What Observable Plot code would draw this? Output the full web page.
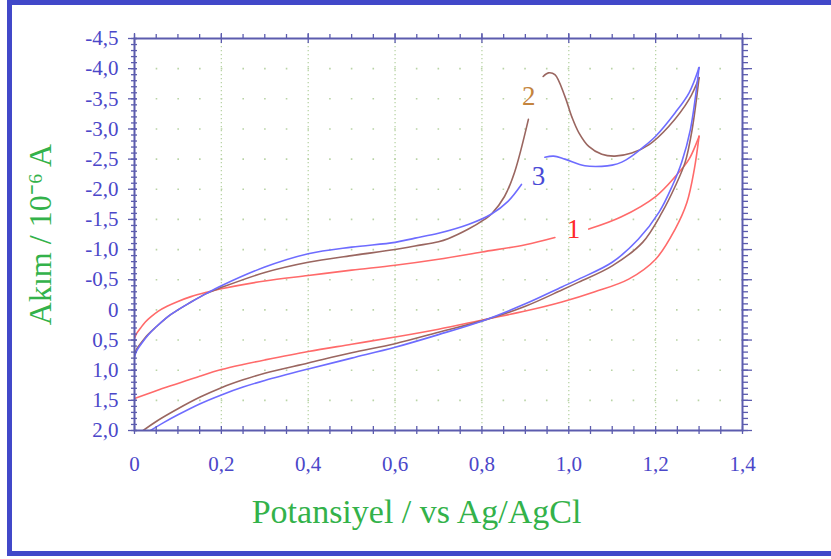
<!DOCTYPE html>
<html>
<head>
<meta charset="utf-8">
<script src="https://cdn.jsdelivr.net/npm/d3@7"></script>
<script src="https://cdn.jsdelivr.net/npm/@observablehq/plot@0.6"></script>
<style>
  body { margin: 0; background: #ffffff; }
  #wrap { position: relative; width: 831px; height: 559px; overflow: hidden; background: #fff; }
  #wrap svg { position: absolute; left: 0; top: 0; }
  #border { position: absolute; left: 7px; top: 0; width: 830px; height: 556px; box-sizing: border-box;
            border-left: 5px solid #4148c9; border-top: 5px solid #4148c9; border-bottom: 5px solid #4148c9; pointer-events: none; }
</style>
</head>
<body>
<div id="wrap"><div id="border"></div></div>
<script>
// ---- Data (potential in V vs Ag/AgCl, current in 10^-6 A; null = gap behind a curve label) ----
const redFwdV   = [0, 0.005, 0.014, 0.025, 0.037, 0.055, 0.075, 0.1, 0.13, 0.165, 0.2, 0.3, 0.4, 0.5, 0.6, 0.7, 0.8, 0.9, 0.968, 1.0, 1.046, 1.12, 1.2, 1.245, 1.277, 1.3];
const redFwdI   = [0.47, 0.39, 0.3, 0.2, 0.12, 0.02, -0.06, -0.14, -0.22, -0.29, -0.35, -0.48, -0.57, -0.66, -0.74, -0.84, -0.96, -1.08, -1.2, null, -1.34, -1.54, -1.88, -2.21, -2.5, -2.88];
const redRevV   = [1.3, 1.289, 1.272, 1.245, 1.2, 1.138, 1.06, 0.984, 0.9, 0.806, 0.7, 0.6, 0.5, 0.4, 0.3, 0.25, 0.2, 0.15, 0.1, 0.05, 0];
const redRevI   = [-2.88, -2.33, -1.78, -1.34, -0.84, -0.51, -0.3, -0.13, 0.02, 0.16, 0.32, 0.45, 0.57, 0.69, 0.83, 0.905, 0.99, 1.1, 1.22, 1.34, 1.47];

const brownFwdV = [0, 0.005, 0.015, 0.031, 0.05, 0.077, 0.1, 0.123, 0.165, 0.2, 0.3, 0.4, 0.5, 0.6, 0.646, 0.7, 0.722, 0.769, 0.806, 0.822, 0.852, 0.875, 0.907, 0.925, 0.941, 0.953, 0.968, 0.991, 1.007, 1.023, 1.046, 1.076, 1.106, 1.145, 1.185, 1.23, 1.277, 1.3];
const brownFwdI = [0.74, 0.65, 0.55, 0.41, 0.28, 0.11, 0.0, -0.1, -0.27, -0.37, -0.62, -0.79, -0.9, -1.0, -1.06, -1.13, -1.18, -1.34, -1.5, -1.59, -1.88, -2.28, -3.16, null, -3.87, -3.93, -3.9, -3.54, -3.2, -2.94, -2.71, -2.58, -2.55, -2.6, -2.74, -3.04, -3.49, -3.85];
const brownRevV = [1.3, 1.284, 1.268, 1.245, 1.215, 1.17, 1.1, 1.023, 0.984, 0.9, 0.806, 0.7, 0.6, 0.5, 0.4, 0.3, 0.25, 0.2, 0.15, 0.1, 0.05, 0.02];
const brownRevI = [-3.85, -2.99, -2.45, -2.05, -1.62, -1.12, -0.73, -0.46, -0.33, -0.06, 0.17, 0.37, 0.56, 0.71, 0.88, 1.05, 1.16, 1.29, 1.45, 1.64, 1.85, 2.0];

const blueFwdV  = [0, 0.005, 0.015, 0.031, 0.05, 0.077, 0.1, 0.123, 0.165, 0.2, 0.3, 0.4, 0.5, 0.6, 0.646, 0.7, 0.77, 0.822, 0.86, 0.891, 0.92, 0.945, 0.965, 0.991, 1.037, 1.076, 1.1, 1.122, 1.145, 1.17, 1.2, 1.245, 1.277, 1.3];
const blueFwdI  = [0.78, 0.68, 0.57, 0.42, 0.28, 0.11, 0.0, -0.1, -0.27, -0.4, -0.71, -0.93, -1.04, -1.12, -1.19, -1.27, -1.42, -1.59, -1.8, -2.08, null, -2.53, -2.55, -2.5, -2.39, -2.38, -2.4, -2.45, -2.55, -2.69, -2.88, -3.27, -3.6, -4.02];
const blueRevV  = [1.3, 1.28, 1.26, 1.238, 1.208, 1.16, 1.1, 1.023, 0.984, 0.9, 0.806, 0.7, 0.6, 0.5, 0.4, 0.3, 0.25, 0.2, 0.15, 0.1, 0.067, 0.037];
const blueRevI  = [-4.02, -2.99, -2.45, -2.05, -1.62, -1.17, -0.79, -0.51, -0.38, -0.1, 0.17, 0.41, 0.62, 0.8, 0.98, 1.17, 1.28, 1.41, 1.56, 1.74, 1.87, 2.0];

const tagText = ["1", "2", "3"];
const tagV    = [1.011, 0.908, 0.93];
const tagI    = [-1.34, -3.54, -2.21];

const xMajor = [0, 0.2, 0.4, 0.6, 0.8, 1.0, 1.2, 1.4];
const xMinor = d3.range(0, 28.5).map(i => i * 0.05);
const yMajor = [-4.5, -4.0, -3.5, -3.0, -2.5, -2.0, -1.5, -1.0, -0.5, 0, 0.5, 1.0, 1.5, 2.0];
const yMinor = d3.range(-45, 20.5).map(i => i / 10);
const yGrid  = [-4.0, -3.5, -3.0, -2.5, -2.0, -1.5, -1.0, -0.5, 0, 0.5, 1.0, 1.5];
const xGrid  = [0.2, 0.4, 0.6, 0.8, 1.0, 1.2];

const xTitle = "Potansiyel / vs Ag/AgCl";
const yTitle = "Akım / 10⁻⁶ A";

// ---- Build tables ----
function rows(vs, is, branch) { return vs.map((v, k) => ({v, i: is[k], branch})); }
const red   = [...rows(redFwdV, redFwdI, "f"), ...rows(redRevV, redRevI, "r")];
const brown = [...rows(brownFwdV, brownFwdI, "f"), ...rows(brownRevV, brownRevI, "r")];
const blue  = [...rows(blueFwdV, blueFwdI, "f"), ...rows(blueRevV, blueRevI, "r")];
const tagColors = ["#ff2a2a", "#c4843e", "#4a4ad6"];

const fmt = d => d === 0 ? "0" : d.toFixed(1).replace(".", ",");
const axisColor = "#5c5cae";
const tickText = "#4b47c9";
const serif = "'Liberation Serif', 'Times New Roman', serif";

const chart = Plot.plot({
  width: 831, height: 559,
  marginLeft: 134, marginRight: 89, marginTop: 38, marginBottom: 129,
  x: {domain: [0, 1.4], label: null},
  y: {domain: [2.0, -4.5], label: null},
  style: {background: "transparent", fontFamily: serif},
  marks: [
    Plot.gridX(xGrid, {stroke: "#b9d4a6", strokeOpacity: 1, strokeWidth: 1.3, strokeDasharray: "1.3,2.7"}),
    Plot.gridY(yGrid, {stroke: "#b9d4a6", strokeOpacity: 1, strokeWidth: 1.6, strokeDasharray: "1.6,20.08"}),
    Plot.line(red,   {x: "v", y: "i", z: "branch", stroke: "#ff6a6a", strokeWidth: 1.6, curve: "catmull-rom", clip: true}),
    Plot.line(brown, {x: "v", y: "i", z: "branch", stroke: "#9a6660", strokeWidth: 1.6, curve: "catmull-rom", clip: true}),
    Plot.line(blue,  {x: "v", y: "i", z: "branch", stroke: "#6e6cff", strokeWidth: 1.6, curve: "catmull-rom", clip: true}),
    ...tagText.map((t, k) => Plot.text([t], {x: () => tagV[k], y: () => tagI[k], text: d => d, fill: tagColors[k], fontSize: 27, fontFamily: serif})),
    Plot.frame({stroke: axisColor, strokeWidth: 2}),
    // bottom ticks (crossing)
    Plot.axisX(xMinor, {anchor: "bottom", tickSize: 8, dy: -4, text: null, stroke: axisColor, strokeWidth: 1.3, label: null}),
    Plot.axisX(xMajor, {anchor: "bottom", tickSize: 0, tickPadding: 26, tickFormat: fmt, fontSize: 21, fill: tickText, label: null}),
    // top ticks
    Plot.axisX(xMinor, {anchor: "top", tickSize: 5, text: null, stroke: axisColor, strokeWidth: 1.3, label: null}),
    Plot.axisX(xMajor, {anchor: "top", tickSize: 10, dy: 4, text: null, stroke: axisColor, strokeWidth: 1.3, label: null}),
    // left ticks
    Plot.axisY(yMinor, {anchor: "left", tickSize: 6, dx: 3, text: null, stroke: axisColor, strokeWidth: 1.3, label: null}),
    Plot.axisY(yMajor, {anchor: "left", tickSize: 9, dx: 3, text: null, stroke: axisColor, strokeWidth: 1.3, label: null}),
    Plot.axisY(yMajor, {anchor: "left", tickSize: 0, tickPadding: 16, tickFormat: fmt, fontSize: 21, fill: tickText, label: null}),
    // right ticks
    Plot.axisY(yMinor, {anchor: "right", tickSize: 5, text: null, stroke: axisColor, strokeWidth: 1.3, label: null}),
    Plot.axisY(yMajor, {anchor: "right", tickSize: 9, text: null, stroke: axisColor, strokeWidth: 1.3, label: null}),
    // axis titles
    Plot.text([xTitle], {frameAnchor: "bottom", dy: 82, dx: -22, lineAnchor: "middle", textAnchor: "middle", fontSize: 34, fill: "#33b24a", fontFamily: serif}),
    Plot.text([yTitle], {frameAnchor: "left", dx: -94, rotate: -90, lineAnchor: "middle", textAnchor: "middle", fontSize: 32, fill: "#33b24a", fontFamily: serif})
  ]
});
document.getElementById("wrap").prepend(chart);
</script>
</body>
</html>
